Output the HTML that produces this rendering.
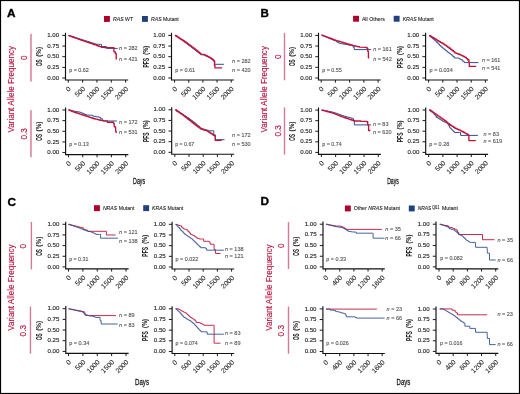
<!DOCTYPE html><html><head><meta charset="utf-8"><style>html,body{margin:0;padding:0;background:#fff;}svg{display:block;will-change:transform;}text{font-family:"Liberation Sans", sans-serif;}</style></head><body>
<svg width="520" height="394" viewBox="0 0 520 394">
<rect x="0" y="0" width="520" height="394" fill="#fff"/>
<text x="7" y="17" font-size="11.8" fill="#000" stroke="#000" stroke-width="0.35" font-weight="bold">A</text>
<text x="260.5" y="16.8" font-size="11.6" fill="#000" stroke="#000" stroke-width="0.35" font-weight="bold">B</text>
<text x="7.4" y="206" font-size="11.8" fill="#000" stroke="#000" stroke-width="0.35" font-weight="bold">C</text>
<text x="260.6" y="205.4" font-size="11.8" fill="#000" stroke="#000" stroke-width="0.35" font-weight="bold">D</text>
<rect x="104" y="16" width="5.9" height="5.9" fill="#b0002a"/>
<text x="113.1" y="20.9" font-size="5.6" fill="#222" stroke="#222" stroke-width="0.1" textLength="20" lengthAdjust="spacingAndGlyphs"><tspan font-style="italic">RAS</tspan> WT</text>
<rect x="142" y="16" width="5.9" height="5.9" fill="#21407f"/>
<text x="151" y="20.9" font-size="5.6" fill="#222" stroke="#222" stroke-width="0.1" textLength="27.8" lengthAdjust="spacingAndGlyphs"><tspan font-style="italic">RAS</tspan> Mutant</text>
<rect x="353.1" y="15.8" width="5.9" height="5.9" fill="#b0002a"/>
<text x="361.9" y="20.8" font-size="5.6" fill="#222" stroke="#222" stroke-width="0.1" textLength="22.9" lengthAdjust="spacingAndGlyphs">All Others</text>
<rect x="393.7" y="15.8" width="5.9" height="5.9" fill="#21407f"/>
<text x="402.7" y="20.8" font-size="5.6" fill="#222" stroke="#222" stroke-width="0.1" textLength="31.1" lengthAdjust="spacingAndGlyphs"><tspan font-style="italic">KRAS</tspan> Mutant</text>
<rect x="94" y="205.2" width="5.9" height="5.9" fill="#b0002a"/>
<text x="102.9" y="210.2" font-size="5.6" fill="#222" stroke="#222" stroke-width="0.1" textLength="31.5" lengthAdjust="spacingAndGlyphs"><tspan font-style="italic">NRAS</tspan> Mutant</text>
<rect x="143.2" y="205.2" width="5.9" height="5.9" fill="#21407f"/>
<text x="152.1" y="210.2" font-size="5.6" fill="#222" stroke="#222" stroke-width="0.1" textLength="31.2" lengthAdjust="spacingAndGlyphs"><tspan font-style="italic">KRAS</tspan> Mutant</text>
<rect x="344.9" y="205.5" width="5.9" height="5.9" fill="#b0002a"/>
<text x="353.7" y="210.4" font-size="5.6" fill="#222" stroke="#222" stroke-width="0.1" textLength="46.3" lengthAdjust="spacingAndGlyphs">Other <tspan font-style="italic">NRAS</tspan> Mutant</text>
<rect x="408.8" y="205.5" width="5.9" height="5.9" fill="#21407f"/>
<text x="417.7" y="210.4" font-size="5.6" fill="#222" stroke="#222" stroke-width="0.1" textLength="13.6" lengthAdjust="spacingAndGlyphs"><tspan font-style="italic">NRAS</tspan></text>
<text x="432" y="208.5" font-size="4.5" fill="#222" stroke="#222" stroke-width="0.08" textLength="7.6" lengthAdjust="spacingAndGlyphs">Q61</text>
<text x="442" y="210.4" font-size="5.6" fill="#222" stroke="#222" stroke-width="0.1" textLength="15.9" lengthAdjust="spacingAndGlyphs">Mutant</text>
<text x="14.2" y="89.3" font-size="8.2" fill="#b8153f" stroke="#b8153f" stroke-width="0.15" text-anchor="middle" textLength="86.4" lengthAdjust="spacingAndGlyphs" transform="rotate(-90 14.2 89.3)">Variant Allele Frequency</text>
<text x="27" y="57.7" font-size="8.2" fill="#b8153f" stroke="#b8153f" stroke-width="0.15" text-anchor="middle" transform="rotate(-90 27 57.7)">0</text>
<text x="27" y="133.8" font-size="8.2" fill="#b8153f" stroke="#b8153f" stroke-width="0.15" text-anchor="middle" transform="rotate(-90 27 133.8)">0.3</text>
<path d="M30.95 33.8V81.5" stroke="#de9db2" stroke-width="2"/>
<path d="M30.95 110.2V157.2" stroke="#de9db2" stroke-width="2"/>
<text x="267.2" y="89.3" font-size="8.2" fill="#b8153f" stroke="#b8153f" stroke-width="0.15" text-anchor="middle" textLength="86.4" lengthAdjust="spacingAndGlyphs" transform="rotate(-90 267.2 89.3)">Variant Allele Frequency</text>
<text x="280.7" y="56.6" font-size="8.2" fill="#b8153f" stroke="#b8153f" stroke-width="0.15" text-anchor="middle" transform="rotate(-90 280.7 56.6)">0</text>
<text x="280.7" y="130.8" font-size="8.2" fill="#b8153f" stroke="#b8153f" stroke-width="0.15" text-anchor="middle" transform="rotate(-90 280.7 130.8)">0.3</text>
<path d="M284.5 32.9V80.3" stroke="#d47a98" stroke-width="1.4"/>
<path d="M284.5 107.4V154.5" stroke="#d47a98" stroke-width="1.4"/>
<text x="13.8" y="287.6" font-size="8.2" fill="#b8153f" stroke="#b8153f" stroke-width="0.15" text-anchor="middle" textLength="86.4" lengthAdjust="spacingAndGlyphs" transform="rotate(-90 13.8 287.6)">Variant Allele Frequency</text>
<text x="26.3" y="246.3" font-size="8.2" fill="#b8153f" stroke="#b8153f" stroke-width="0.15" text-anchor="middle" transform="rotate(-90 26.3 246.3)">0</text>
<text x="26.3" y="330.7" font-size="8.2" fill="#b8153f" stroke="#b8153f" stroke-width="0.15" text-anchor="middle" transform="rotate(-90 26.3 330.7)">0.3</text>
<path d="M31.4 221.9V269.4" stroke="#d47a98" stroke-width="1.4"/>
<path d="M30.45 306.6V353.7" stroke="#d47a98" stroke-width="1.4"/>
<text x="271.8" y="287.6" font-size="8.2" fill="#b8153f" stroke="#b8153f" stroke-width="0.15" text-anchor="middle" textLength="86.4" lengthAdjust="spacingAndGlyphs" transform="rotate(-90 271.8 287.6)">Variant Allele Frequency</text>
<text x="284" y="245.6" font-size="8.2" fill="#b8153f" stroke="#b8153f" stroke-width="0.15" text-anchor="middle" transform="rotate(-90 284 245.6)">0</text>
<text x="284" y="330.7" font-size="8.2" fill="#b8153f" stroke="#b8153f" stroke-width="0.15" text-anchor="middle" transform="rotate(-90 284 330.7)">0.3</text>
<path d="M288.5 222.1V268.9" stroke="#d47a98" stroke-width="1.4"/>
<path d="M288.5 306.6V353.7" stroke="#d47a98" stroke-width="1.4"/>
<text x="139.1" y="184.3" font-size="9.4" fill="#1a1a1a" stroke="#1a1a1a" stroke-width="0.3" text-anchor="middle" textLength="12" lengthAdjust="spacingAndGlyphs">Days</text>
<text x="393" y="184.2" font-size="9.4" fill="#1a1a1a" stroke="#1a1a1a" stroke-width="0.3" text-anchor="middle" textLength="11.7" lengthAdjust="spacingAndGlyphs">Days</text>
<text x="142" y="384.6" font-size="9.4" fill="#1a1a1a" stroke="#1a1a1a" stroke-width="0.3" text-anchor="middle" textLength="13.9" lengthAdjust="spacingAndGlyphs">Days</text>
<text x="403.4" y="384.5" font-size="9.4" fill="#1a1a1a" stroke="#1a1a1a" stroke-width="0.3" text-anchor="middle" textLength="13.6" lengthAdjust="spacingAndGlyphs">Days</text>
<path d="M65.5 32.8V79.95H128.22" fill="none" stroke="#111" stroke-width="1.15"/>
<path d="M62.3 78H65.5M62.3 67.35H65.5M62.3 56.7H65.5M62.3 46.05H65.5M62.3 35.4H65.5M68.3 79.95V82.65M82.63 79.95V82.65M96.96 79.95V82.65M111.29 79.95V82.65M125.62 79.95V82.65" stroke="#1a1a1a" stroke-width="1.0"/>
<text x="59.1" y="79.6" font-size="6.1" fill="#262626" stroke="#262626" stroke-width="0.14" text-anchor="end">0.00</text>
<text x="59.1" y="68.95" font-size="6.1" fill="#262626" stroke="#262626" stroke-width="0.14" text-anchor="end">0.25</text>
<text x="59.1" y="58.3" font-size="6.1" fill="#262626" stroke="#262626" stroke-width="0.14" text-anchor="end">0.50</text>
<text x="59.1" y="47.65" font-size="6.1" fill="#262626" stroke="#262626" stroke-width="0.14" text-anchor="end">0.75</text>
<text x="59.1" y="37" font-size="6.1" fill="#262626" stroke="#262626" stroke-width="0.14" text-anchor="end">1.00</text>
<text x="71.3" y="89.25" font-size="6.85" fill="#262626" stroke="#262626" stroke-width="0.08" text-anchor="end" transform="rotate(-45 71.3 89.25)">0</text>
<text x="85.63" y="89.25" font-size="6.85" fill="#262626" stroke="#262626" stroke-width="0.08" text-anchor="end" transform="rotate(-45 85.63 89.25)">500</text>
<text x="99.96" y="89.25" font-size="6.85" fill="#262626" stroke="#262626" stroke-width="0.08" text-anchor="end" transform="rotate(-45 99.96 89.25)">1000</text>
<text x="114.29" y="89.25" font-size="6.85" fill="#262626" stroke="#262626" stroke-width="0.08" text-anchor="end" transform="rotate(-45 114.29 89.25)">1500</text>
<text x="128.62" y="89.25" font-size="6.85" fill="#262626" stroke="#262626" stroke-width="0.08" text-anchor="end" transform="rotate(-45 128.62 89.25)">2000</text>
<g transform="translate(41.9 56.5) rotate(-90)">
<text x="-9.55" y="0" font-size="8.6" fill="#1a1a1a" stroke="#1a1a1a" stroke-width="0.05" font-weight="bold" textLength="6.6" lengthAdjust="spacingAndGlyphs">OS</text>
<text x="-0.35" y="-1.1" font-size="7.1" fill="#1a1a1a" stroke="#1a1a1a" stroke-width="0.05" font-weight="bold" textLength="9.9" lengthAdjust="spacingAndGlyphs">(%)</text>
</g>
<path d="M68.3 35.5 L69.6 35.5 L69.6 35.91 L70.9 35.91 L70.9 36.32 L72.2 36.32 L72.2 36.73 L73.5 36.73 L73.5 37.14 L74.8 37.14 L74.8 37.56 L76.1 37.56 L76.1 37.97 L77.4 37.97 L77.4 38.38 L78.7 38.38 L78.7 38.79 L80 38.79 L80 39.2 L81.25 39.2 L81.25 39.59 L82.5 39.59 L82.5 39.98 L83.75 39.98 L83.75 40.36 L85 40.36 L85 40.75 L86.25 40.75 L86.25 41.14 L87.5 41.14 L87.5 41.52 L88.75 41.52 L88.75 41.91 L90 41.91 L90 42.3 L91.28 42.3 L91.28 42.75 L92.55 42.75 L92.55 43.2 L93.82 43.2 L93.82 43.65 L95.1 43.65 L95.1 44.1 L98.3 44.3 L100.5 44.4 L101.5 44.4 L101.5 46.5 L106.4 46.5 L106.4 48.4 L117.7 48.4" fill="none" stroke="#2f4f8f" stroke-width="1.0" stroke-linejoin="round"/>
<path d="M68.3 35.6 L69.6 35.6 L69.6 36.07 L70.9 36.07 L70.9 36.53 L72.2 36.53 L72.2 37 L73.5 37 L73.5 37.47 L74.8 37.47 L74.8 37.93 L76.1 37.93 L76.1 38.4 L77.4 38.4 L77.4 38.87 L78.7 38.87 L78.7 39.33 L80 39.33 L80 39.8 L81.25 39.8 L81.25 40.22 L82.5 40.22 L82.5 40.65 L83.75 40.65 L83.75 41.08 L85 41.08 L85 41.5 L86.25 41.5 L86.25 41.92 L87.5 41.92 L87.5 42.35 L88.75 42.35 L88.75 42.78 L90 42.78 L90 43.2 L91.28 43.2 L91.28 43.62 L92.55 43.62 L92.55 44.05 L93.82 44.05 L93.82 44.48 L95.1 44.48 L95.1 44.9 L96.55 44.9 L96.55 45.45 L98 45.45 L98 46 L99.17 46 L99.17 46.43 L100.33 46.43 L100.33 46.87 L101.5 46.87 L101.5 47.3 L104 47.3 L104 47.6 L113.9 47.6 L113.9 51.9 L115.3 51.9 L115.3 53.5 L116.2 53.5 L116.2 58.9 L117 58.9" fill="none" stroke="#c0143c" stroke-width="1.35" stroke-linejoin="round"/>
<text x="69.2" y="71.8" font-size="5.4" fill="#555" stroke="#555" stroke-width="0.12" textLength="19.7" lengthAdjust="spacingAndGlyphs">p = 0.62</text>
<text x="119.1" y="50.1" font-size="5.5" fill="#555" stroke="#555" stroke-width="0.12"><tspan font-style="italic">n</tspan> = 282</text>
<text x="119.1" y="61.2" font-size="5.5" fill="#555" stroke="#555" stroke-width="0.12"><tspan font-style="italic">n</tspan> = 421</text>
<path d="M171.5 32.8V79.95H233.8" fill="none" stroke="#111" stroke-width="1.15"/>
<path d="M168.3 78H171.5M168.3 67.35H171.5M168.3 56.7H171.5M168.3 46.05H171.5M168.3 35.4H171.5M174.6 79.95V82.65M188.75 79.95V82.65M202.9 79.95V82.65M217.05 79.95V82.65M231.2 79.95V82.65" stroke="#1a1a1a" stroke-width="1.0"/>
<text x="165.1" y="79.6" font-size="6.1" fill="#262626" stroke="#262626" stroke-width="0.14" text-anchor="end">0.00</text>
<text x="165.1" y="68.95" font-size="6.1" fill="#262626" stroke="#262626" stroke-width="0.14" text-anchor="end">0.25</text>
<text x="165.1" y="58.3" font-size="6.1" fill="#262626" stroke="#262626" stroke-width="0.14" text-anchor="end">0.50</text>
<text x="165.1" y="47.65" font-size="6.1" fill="#262626" stroke="#262626" stroke-width="0.14" text-anchor="end">0.75</text>
<text x="165.1" y="37" font-size="6.1" fill="#262626" stroke="#262626" stroke-width="0.14" text-anchor="end">1.00</text>
<text x="177.6" y="89.25" font-size="6.85" fill="#262626" stroke="#262626" stroke-width="0.08" text-anchor="end" transform="rotate(-45 177.6 89.25)">0</text>
<text x="191.75" y="89.25" font-size="6.85" fill="#262626" stroke="#262626" stroke-width="0.08" text-anchor="end" transform="rotate(-45 191.75 89.25)">500</text>
<text x="205.9" y="89.25" font-size="6.85" fill="#262626" stroke="#262626" stroke-width="0.08" text-anchor="end" transform="rotate(-45 205.9 89.25)">1000</text>
<text x="220.05" y="89.25" font-size="6.85" fill="#262626" stroke="#262626" stroke-width="0.08" text-anchor="end" transform="rotate(-45 220.05 89.25)">1500</text>
<text x="234.2" y="89.25" font-size="6.85" fill="#262626" stroke="#262626" stroke-width="0.08" text-anchor="end" transform="rotate(-45 234.2 89.25)">2000</text>
<g transform="translate(149.4 56.7) rotate(-90)">
<text x="-10.9" y="0" font-size="8.6" fill="#1a1a1a" stroke="#1a1a1a" stroke-width="0.05" font-weight="bold" textLength="9.8" lengthAdjust="spacingAndGlyphs">PFS</text>
<text x="2" y="-1.1" font-size="7.1" fill="#1a1a1a" stroke="#1a1a1a" stroke-width="0.05" font-weight="bold" textLength="8.9" lengthAdjust="spacingAndGlyphs">(%)</text>
</g>
<path d="M174.9 35.5 L176.13 35.5 L176.13 36.34 L177.36 36.34 L177.36 37.19 L178.59 37.19 L178.59 38.03 L179.81 38.03 L179.81 38.87 L181.04 38.87 L181.04 39.71 L182.27 39.71 L182.27 40.56 L183.5 40.56 L183.5 41.4 L184.83 41.4 L184.83 42.43 L186.16 42.43 L186.16 43.46 L187.49 43.46 L187.49 44.49 L188.81 44.49 L188.81 45.51 L190.14 45.51 L190.14 46.54 L191.47 46.54 L191.47 47.57 L192.8 47.57 L192.8 48.6 L194.13 48.6 L194.13 49.63 L195.47 49.63 L195.47 50.67 L196.8 50.67 L196.8 51.7 L198.13 51.7 L198.13 52.73 L199.47 52.73 L199.47 53.77 L200.8 53.77 L200.8 54.8 L203.2 54.8 L204.33 54.8 L204.33 55.33 L205.47 55.33 L205.47 55.87 L206.6 55.87 L206.6 56.4 L207.77 56.4 L207.77 57 L208.93 57 L208.93 57.6 L210.1 57.6 L210.1 58.2 L211.25 58.2 L211.25 59.05 L212.4 59.05 L212.4 59.9 L213.5 59.9 L213.5 60.8 L214.7 60.8 L214.7 64.3 L223.9 64.3" fill="none" stroke="#2f4f8f" stroke-width="1.0" stroke-linejoin="round"/>
<path d="M174.9 35.5 L176.13 35.5 L176.13 36.29 L177.36 36.29 L177.36 37.07 L178.59 37.07 L178.59 37.86 L179.81 37.86 L179.81 38.64 L181.04 38.64 L181.04 39.43 L182.27 39.43 L182.27 40.21 L183.5 40.21 L183.5 41 L184.83 41 L184.83 41.97 L186.16 41.97 L186.16 42.94 L187.49 42.94 L187.49 43.91 L188.81 43.91 L188.81 44.89 L190.14 44.89 L190.14 45.86 L191.47 45.86 L191.47 46.83 L192.8 46.83 L192.8 47.8 L194.13 47.8 L194.13 48.87 L195.47 48.87 L195.47 49.93 L196.8 49.93 L196.8 51 L198.13 51 L198.13 52.07 L199.47 52.07 L199.47 53.13 L200.8 53.13 L200.8 54.2 L203.2 54.4 L204.33 54.4 L204.33 54.93 L205.47 54.93 L205.47 55.47 L206.6 55.47 L206.6 56 L207.77 56 L207.77 56.6 L208.93 56.6 L208.93 57.2 L210.1 57.2 L210.1 57.8 L211.25 57.8 L211.25 58.65 L212.4 58.65 L212.4 59.5 L213.5 59.5 L213.5 60.8 L214.5 60.8 L214.5 65.5 L214.9 65.5 L214.9 67.8 L222.2 67.8" fill="none" stroke="#c0143c" stroke-width="1.35" stroke-linejoin="round"/>
<text x="175.2" y="71.8" font-size="5.4" fill="#555" stroke="#555" stroke-width="0.12" textLength="19.9" lengthAdjust="spacingAndGlyphs">p = 0.61</text>
<text x="232.1" y="63.3" font-size="5.5" fill="#555" stroke="#555" stroke-width="0.12"><tspan font-style="italic">n</tspan> = 282</text>
<text x="232.1" y="71.9" font-size="5.5" fill="#555" stroke="#555" stroke-width="0.12"><tspan font-style="italic">n</tspan> = 420</text>
<path d="M65.6 107.4V154.55H128.32" fill="none" stroke="#111" stroke-width="1.15"/>
<path d="M62.4 152.6H65.6M62.4 141.95H65.6M62.4 131.3H65.6M62.4 120.65H65.6M62.4 110H65.6M68.4 154.55V157.25M82.73 154.55V157.25M97.06 154.55V157.25M111.39 154.55V157.25M125.72 154.55V157.25" stroke="#1a1a1a" stroke-width="1.0"/>
<text x="59.2" y="154.2" font-size="6.1" fill="#262626" stroke="#262626" stroke-width="0.14" text-anchor="end">0.00</text>
<text x="59.2" y="143.55" font-size="6.1" fill="#262626" stroke="#262626" stroke-width="0.14" text-anchor="end">0.25</text>
<text x="59.2" y="132.9" font-size="6.1" fill="#262626" stroke="#262626" stroke-width="0.14" text-anchor="end">0.50</text>
<text x="59.2" y="122.25" font-size="6.1" fill="#262626" stroke="#262626" stroke-width="0.14" text-anchor="end">0.75</text>
<text x="59.2" y="111.6" font-size="6.1" fill="#262626" stroke="#262626" stroke-width="0.14" text-anchor="end">1.00</text>
<text x="71.4" y="163.85" font-size="6.85" fill="#262626" stroke="#262626" stroke-width="0.08" text-anchor="end" transform="rotate(-45 71.4 163.85)">0</text>
<text x="85.73" y="163.85" font-size="6.85" fill="#262626" stroke="#262626" stroke-width="0.08" text-anchor="end" transform="rotate(-45 85.73 163.85)">500</text>
<text x="100.06" y="163.85" font-size="6.85" fill="#262626" stroke="#262626" stroke-width="0.08" text-anchor="end" transform="rotate(-45 100.06 163.85)">1000</text>
<text x="114.39" y="163.85" font-size="6.85" fill="#262626" stroke="#262626" stroke-width="0.08" text-anchor="end" transform="rotate(-45 114.39 163.85)">1500</text>
<text x="128.72" y="163.85" font-size="6.85" fill="#262626" stroke="#262626" stroke-width="0.08" text-anchor="end" transform="rotate(-45 128.72 163.85)">2000</text>
<g transform="translate(41.9 131.1) rotate(-90)">
<text x="-9.55" y="0" font-size="8.6" fill="#1a1a1a" stroke="#1a1a1a" stroke-width="0.05" font-weight="bold" textLength="6.6" lengthAdjust="spacingAndGlyphs">OS</text>
<text x="-0.35" y="-1.1" font-size="7.1" fill="#1a1a1a" stroke="#1a1a1a" stroke-width="0.05" font-weight="bold" textLength="9.9" lengthAdjust="spacingAndGlyphs">(%)</text>
</g>
<path d="M68.5 110 L69.97 110 L69.97 110.4 L71.43 110.4 L71.43 110.8 L72.9 110.8 L72.9 111.2 L75.2 111.2 L75.2 111.57 L77.5 111.57 L77.5 111.93 L79.8 111.93 L79.8 112.3 L81.25 112.3 L81.25 112.9 L82.7 112.9 L82.7 113.5 L83.87 113.5 L83.87 114 L85.03 114 L85.03 114.5 L86.2 114.5 L86.2 115 L90.8 115.2 L92.25 115.2 L92.25 115.8 L93.7 115.8 L93.7 116.4 L96.3 116.4 L96.3 116.85 L98.9 116.85 L98.9 117.3 L100.6 117.3 L100.6 118.7 L102.3 118.7 L102.3 121 L116.8 121" fill="none" stroke="#2f4f8f" stroke-width="1.0" stroke-linejoin="round"/>
<path d="M68.5 110 L69.97 110 L69.97 110.6 L71.43 110.6 L71.43 111.2 L72.9 111.2 L72.9 111.8 L74.28 111.8 L74.28 112.26 L75.66 112.26 L75.66 112.72 L77.04 112.72 L77.04 113.18 L78.42 113.18 L78.42 113.64 L79.8 113.64 L79.8 114.1 L81.2 114.1 L81.2 114.56 L82.6 114.56 L82.6 115.02 L84 115.02 L84 115.48 L85.4 115.48 L85.4 115.94 L86.8 115.94 L86.8 116.4 L88.18 116.4 L88.18 116.86 L89.56 116.86 L89.56 117.32 L90.94 117.32 L90.94 117.78 L92.32 117.78 L92.32 118.24 L93.7 118.24 L93.7 118.7 L95.42 118.7 L95.42 119.12 L97.15 119.12 L97.15 119.55 L98.88 119.55 L98.88 119.98 L100.6 119.98 L100.6 120.4 L103.5 120.4 L103.5 120.8 L106.4 120.8 L106.4 121.2 L107.5 121.2 L107.5 122.2 L112.7 122.2 L113.5 122.2 L113.5 123.3 L114.2 123.3 L114.2 126.8 L115.6 126.8 L115.6 128.5 L115.8 132 L117 132" fill="none" stroke="#c0143c" stroke-width="1.35" stroke-linejoin="round"/>
<text x="69.2" y="146.1" font-size="5.4" fill="#555" stroke="#555" stroke-width="0.12" textLength="19.7" lengthAdjust="spacingAndGlyphs">p = 0.13</text>
<text x="119.1" y="123.8" font-size="5.5" fill="#555" stroke="#555" stroke-width="0.12"><tspan font-style="italic">n</tspan> = 172</text>
<text x="119.1" y="134.4" font-size="5.5" fill="#555" stroke="#555" stroke-width="0.12"><tspan font-style="italic">n</tspan> = 531</text>
<path d="M171.7 107.2V154.25H234.2" fill="none" stroke="#111" stroke-width="1.15"/>
<path d="M168.5 152.3H171.7M168.5 141.68H171.7M168.5 131.05H171.7M168.5 120.42H171.7M168.5 109.8H171.7M174.8 154.25V156.95M189 154.25V156.95M203.2 154.25V156.95M217.4 154.25V156.95M231.6 154.25V156.95" stroke="#1a1a1a" stroke-width="1.0"/>
<text x="165.3" y="153.9" font-size="6.1" fill="#262626" stroke="#262626" stroke-width="0.14" text-anchor="end">0.00</text>
<text x="165.3" y="143.28" font-size="6.1" fill="#262626" stroke="#262626" stroke-width="0.14" text-anchor="end">0.25</text>
<text x="165.3" y="132.65" font-size="6.1" fill="#262626" stroke="#262626" stroke-width="0.14" text-anchor="end">0.50</text>
<text x="165.3" y="122.02" font-size="6.1" fill="#262626" stroke="#262626" stroke-width="0.14" text-anchor="end">0.75</text>
<text x="165.3" y="111.4" font-size="6.1" fill="#262626" stroke="#262626" stroke-width="0.14" text-anchor="end">1.00</text>
<text x="177.8" y="163.55" font-size="6.85" fill="#262626" stroke="#262626" stroke-width="0.08" text-anchor="end" transform="rotate(-45 177.8 163.55)">0</text>
<text x="192" y="163.55" font-size="6.85" fill="#262626" stroke="#262626" stroke-width="0.08" text-anchor="end" transform="rotate(-45 192 163.55)">500</text>
<text x="206.2" y="163.55" font-size="6.85" fill="#262626" stroke="#262626" stroke-width="0.08" text-anchor="end" transform="rotate(-45 206.2 163.55)">1000</text>
<text x="220.4" y="163.55" font-size="6.85" fill="#262626" stroke="#262626" stroke-width="0.08" text-anchor="end" transform="rotate(-45 220.4 163.55)">1500</text>
<text x="234.6" y="163.55" font-size="6.85" fill="#262626" stroke="#262626" stroke-width="0.08" text-anchor="end" transform="rotate(-45 234.6 163.55)">2000</text>
<g transform="translate(149.4 131.2) rotate(-90)">
<text x="-10.9" y="0" font-size="8.6" fill="#1a1a1a" stroke="#1a1a1a" stroke-width="0.05" font-weight="bold" textLength="9.8" lengthAdjust="spacingAndGlyphs">PFS</text>
<text x="2" y="-1.1" font-size="7.1" fill="#1a1a1a" stroke="#1a1a1a" stroke-width="0.05" font-weight="bold" textLength="8.9" lengthAdjust="spacingAndGlyphs">(%)</text>
</g>
<path d="M175.2 110 L176.58 110 L176.58 110.87 L177.97 110.87 L177.97 111.73 L179.35 111.73 L179.35 112.6 L180.73 112.6 L180.73 113.47 L182.12 113.47 L182.12 114.33 L183.5 114.33 L183.5 115.2 L184.67 115.2 L184.67 115.97 L185.83 115.97 L185.83 116.73 L187 116.73 L187 117.5 L188.38 117.5 L188.38 118.54 L189.76 118.54 L189.76 119.58 L191.14 119.58 L191.14 120.62 L192.52 120.62 L192.52 121.66 L193.9 121.66 L193.9 122.7 L195.28 122.7 L195.28 123.86 L196.66 123.86 L196.66 125.02 L198.04 125.02 L198.04 126.18 L199.42 126.18 L199.42 127.34 L200.8 127.34 L200.8 128.5 L202.25 128.5 L202.25 128.93 L203.7 128.93 L203.7 129.35 L205.15 129.35 L205.15 129.77 L206.6 129.77 L206.6 130.2 L208.3 130.2 L208.3 130.8 L213 130.8 L213.8 130.8 L213.8 134.8 L214.5 134.8 L215.3 134.8 L215.3 139.7 L224.5 139.7" fill="none" stroke="#2f4f8f" stroke-width="1.0" stroke-linejoin="round"/>
<path d="M175.2 110 L176.58 110 L176.58 110.97 L177.97 110.97 L177.97 111.93 L179.35 111.93 L179.35 112.9 L180.73 112.9 L180.73 113.87 L182.12 113.87 L182.12 114.83 L183.5 114.83 L183.5 115.8 L184.95 115.8 L184.95 116.95 L186.4 116.95 L186.4 118.1 L187.85 118.1 L187.85 119.25 L189.3 119.25 L189.3 120.4 L190.75 120.4 L190.75 121.55 L192.2 121.55 L192.2 122.7 L193.65 122.7 L193.65 123.85 L195.1 123.85 L195.1 125 L196.53 125 L196.53 126.03 L197.95 126.03 L197.95 127.05 L199.38 127.05 L199.38 128.07 L200.8 128.07 L200.8 129.1 L202.25 129.1 L202.25 129.53 L203.7 129.53 L203.7 129.95 L205.15 129.95 L205.15 130.38 L206.6 130.38 L206.6 130.8 L207.75 130.8 L207.75 131.53 L208.9 131.53 L208.9 132.25 L210.05 132.25 L210.05 132.97 L211.2 132.97 L211.2 133.7 L212.35 133.7 L212.35 134.55 L213.5 134.55 L213.5 135.4 L214.9 135.4 L214.9 136.6 L215.3 136.6 L215.3 140.4 L221.8 140.4" fill="none" stroke="#c0143c" stroke-width="1.35" stroke-linejoin="round"/>
<text x="175.2" y="145.8" font-size="5.4" fill="#555" stroke="#555" stroke-width="0.12" textLength="19" lengthAdjust="spacingAndGlyphs">p = 0.67</text>
<text x="232.1" y="136.8" font-size="5.5" fill="#555" stroke="#555" stroke-width="0.12"><tspan font-style="italic">n</tspan> = 172</text>
<text x="232.1" y="145.7" font-size="5.5" fill="#555" stroke="#555" stroke-width="0.12"><tspan font-style="italic">n</tspan> = 530</text>
<path d="M318.5 32.8V79.95H380.68" fill="none" stroke="#111" stroke-width="1.15"/>
<path d="M315.3 78H318.5M315.3 67.35H318.5M315.3 56.7H318.5M315.3 46.05H318.5M315.3 35.4H318.5M321.2 79.95V82.65M335.42 79.95V82.65M349.64 79.95V82.65M363.86 79.95V82.65M378.08 79.95V82.65" stroke="#1a1a1a" stroke-width="1.0"/>
<text x="312.1" y="79.6" font-size="6.1" fill="#262626" stroke="#262626" stroke-width="0.14" text-anchor="end">0.00</text>
<text x="312.1" y="68.95" font-size="6.1" fill="#262626" stroke="#262626" stroke-width="0.14" text-anchor="end">0.25</text>
<text x="312.1" y="58.3" font-size="6.1" fill="#262626" stroke="#262626" stroke-width="0.14" text-anchor="end">0.50</text>
<text x="312.1" y="47.65" font-size="6.1" fill="#262626" stroke="#262626" stroke-width="0.14" text-anchor="end">0.75</text>
<text x="312.1" y="37" font-size="6.1" fill="#262626" stroke="#262626" stroke-width="0.14" text-anchor="end">1.00</text>
<text x="324.2" y="89.25" font-size="6.85" fill="#262626" stroke="#262626" stroke-width="0.08" text-anchor="end" transform="rotate(-45 324.2 89.25)">0</text>
<text x="338.42" y="89.25" font-size="6.85" fill="#262626" stroke="#262626" stroke-width="0.08" text-anchor="end" transform="rotate(-45 338.42 89.25)">500</text>
<text x="352.64" y="89.25" font-size="6.85" fill="#262626" stroke="#262626" stroke-width="0.08" text-anchor="end" transform="rotate(-45 352.64 89.25)">1000</text>
<text x="366.86" y="89.25" font-size="6.85" fill="#262626" stroke="#262626" stroke-width="0.08" text-anchor="end" transform="rotate(-45 366.86 89.25)">1500</text>
<text x="381.08" y="89.25" font-size="6.85" fill="#262626" stroke="#262626" stroke-width="0.08" text-anchor="end" transform="rotate(-45 381.08 89.25)">2000</text>
<g transform="translate(295.2 56.5) rotate(-90)">
<text x="-9.55" y="0" font-size="8.6" fill="#1a1a1a" stroke="#1a1a1a" stroke-width="0.05" font-weight="bold" textLength="6.6" lengthAdjust="spacingAndGlyphs">OS</text>
<text x="-0.35" y="-1.1" font-size="7.1" fill="#1a1a1a" stroke="#1a1a1a" stroke-width="0.05" font-weight="bold" textLength="9.9" lengthAdjust="spacingAndGlyphs">(%)</text>
</g>
<path d="M321.5 35.2 L322.75 35.2 L322.75 35.73 L324.01 35.73 L324.01 36.25 L325.26 36.25 L325.26 36.78 L326.52 36.78 L326.52 37.31 L327.77 37.31 L327.77 37.84 L329.03 37.84 L329.03 38.36 L330.28 38.36 L330.28 38.89 L331.54 38.89 L331.54 39.42 L332.79 39.42 L332.79 39.95 L334.05 39.95 L334.05 40.47 L335.3 40.47 L335.3 41 L336.45 41 L336.45 41.85 L337.6 41.85 L337.6 42.7 L338.77 42.7 L338.77 43.07 L339.93 43.07 L339.93 43.43 L341.1 43.43 L341.1 43.8 L343.4 43.8 L343.4 44.2 L345.7 44.2 L345.7 44.6 L348 44.6 L348 45 L352.6 45 L352.6 45.6 L353.2 45.6 L353.2 47.3 L354.3 47.3 L354.3 49.6 L371.1 49.6" fill="none" stroke="#2f4f8f" stroke-width="1.0" stroke-linejoin="round"/>
<path d="M321.5 35.2 L322.75 35.2 L322.75 35.67 L324.01 35.67 L324.01 36.15 L325.26 36.15 L325.26 36.62 L326.52 36.62 L326.52 37.09 L327.77 37.09 L327.77 37.56 L329.03 37.56 L329.03 38.04 L330.28 38.04 L330.28 38.51 L331.54 38.51 L331.54 38.98 L332.79 38.98 L332.79 39.45 L334.05 39.45 L334.05 39.93 L335.3 39.93 L335.3 40.4 L336.75 40.4 L336.75 40.83 L338.2 40.83 L338.2 41.25 L339.65 41.25 L339.65 41.67 L341.1 41.67 L341.1 42.1 L342.53 42.1 L342.53 42.52 L343.95 42.52 L343.95 42.95 L345.38 42.95 L345.38 43.38 L346.8 43.38 L346.8 43.8 L348.25 43.8 L348.25 44.25 L349.7 44.25 L349.7 44.7 L351.15 44.7 L351.15 45.15 L352.6 45.15 L352.6 45.6 L354.35 45.6 L354.35 46 L356.1 46 L356.1 46.4 L357.8 46.4 L357.8 46.75 L359.5 46.75 L359.5 47.1 L366.5 47.3 L367 47.3 L367 48.5 L367.8 48.5 L367.8 51.3 L368.4 51.3 L368.4 57.7 L369.3 57.7" fill="none" stroke="#c0143c" stroke-width="1.35" stroke-linejoin="round"/>
<text x="322.2" y="71.8" font-size="5.4" fill="#555" stroke="#555" stroke-width="0.12" textLength="19.7" lengthAdjust="spacingAndGlyphs">p = 0.55</text>
<text x="373.2" y="51.2" font-size="5.5" fill="#555" stroke="#555" stroke-width="0.12"><tspan font-style="italic">n</tspan> = 161</text>
<text x="373.2" y="61.4" font-size="5.5" fill="#555" stroke="#555" stroke-width="0.12"><tspan font-style="italic">n</tspan> = 542</text>
<path d="M425.6 32.8V79.95H488" fill="none" stroke="#111" stroke-width="1.15"/>
<path d="M422.4 78H425.6M422.4 67.35H425.6M422.4 56.7H425.6M422.4 46.05H425.6M422.4 35.4H425.6M428.6 79.95V82.65M442.8 79.95V82.65M457 79.95V82.65M471.2 79.95V82.65M485.4 79.95V82.65" stroke="#1a1a1a" stroke-width="1.0"/>
<text x="419.2" y="79.6" font-size="6.1" fill="#262626" stroke="#262626" stroke-width="0.14" text-anchor="end">0.00</text>
<text x="419.2" y="68.95" font-size="6.1" fill="#262626" stroke="#262626" stroke-width="0.14" text-anchor="end">0.25</text>
<text x="419.2" y="58.3" font-size="6.1" fill="#262626" stroke="#262626" stroke-width="0.14" text-anchor="end">0.50</text>
<text x="419.2" y="47.65" font-size="6.1" fill="#262626" stroke="#262626" stroke-width="0.14" text-anchor="end">0.75</text>
<text x="419.2" y="37" font-size="6.1" fill="#262626" stroke="#262626" stroke-width="0.14" text-anchor="end">1.00</text>
<text x="431.6" y="89.25" font-size="6.85" fill="#262626" stroke="#262626" stroke-width="0.08" text-anchor="end" transform="rotate(-45 431.6 89.25)">0</text>
<text x="445.8" y="89.25" font-size="6.85" fill="#262626" stroke="#262626" stroke-width="0.08" text-anchor="end" transform="rotate(-45 445.8 89.25)">500</text>
<text x="460" y="89.25" font-size="6.85" fill="#262626" stroke="#262626" stroke-width="0.08" text-anchor="end" transform="rotate(-45 460 89.25)">1000</text>
<text x="474.2" y="89.25" font-size="6.85" fill="#262626" stroke="#262626" stroke-width="0.08" text-anchor="end" transform="rotate(-45 474.2 89.25)">1500</text>
<text x="488.4" y="89.25" font-size="6.85" fill="#262626" stroke="#262626" stroke-width="0.08" text-anchor="end" transform="rotate(-45 488.4 89.25)">2000</text>
<g transform="translate(402.7 57) rotate(-90)">
<text x="-10.9" y="0" font-size="8.6" fill="#1a1a1a" stroke="#1a1a1a" stroke-width="0.05" font-weight="bold" textLength="9.8" lengthAdjust="spacingAndGlyphs">PFS</text>
<text x="2" y="-1.1" font-size="7.1" fill="#1a1a1a" stroke="#1a1a1a" stroke-width="0.05" font-weight="bold" textLength="8.9" lengthAdjust="spacingAndGlyphs">(%)</text>
</g>
<path d="M429.2 35.7 L430.4 35.7 L430.4 36.8 L431.6 36.8 L431.6 37.9 L432.8 37.9 L432.8 39 L434 39 L434 40.1 L435.2 40.1 L435.2 41.2 L436.65 41.2 L436.65 42.65 L438.1 42.65 L438.1 44.1 L439.55 44.1 L439.55 45.55 L441 45.55 L441 47 L442.45 47 L442.45 48.15 L443.9 48.15 L443.9 49.3 L445.35 49.3 L445.35 50.45 L446.8 50.45 L446.8 51.6 L447.95 51.6 L447.95 52.48 L449.1 52.48 L449.1 53.35 L450.25 53.35 L450.25 54.23 L451.4 54.23 L451.4 55.1 L452.85 55.1 L452.85 56.55 L454.3 56.55 L454.3 58 L457.7 58 L459.15 58 L459.15 58.85 L460.6 58.85 L460.6 59.7 L462.3 59.7 L462.3 61.1 L464.1 61.1 L464.1 62.6 L478.5 62.6" fill="none" stroke="#2f4f8f" stroke-width="1.0" stroke-linejoin="round"/>
<path d="M429.2 35.7 L430.58 35.7 L430.58 36.53 L431.97 36.53 L431.97 37.37 L433.35 37.37 L433.35 38.2 L434.73 38.2 L434.73 39.03 L436.12 39.03 L436.12 39.87 L437.5 39.87 L437.5 40.7 L438.95 40.7 L438.95 41.55 L440.4 41.55 L440.4 42.4 L441.85 42.4 L441.85 43.25 L443.3 43.25 L443.3 44.1 L444.75 44.1 L444.75 45.12 L446.2 45.12 L446.2 46.15 L447.65 46.15 L447.65 47.18 L449.1 47.18 L449.1 48.2 L450.53 48.2 L450.53 49.35 L451.95 49.35 L451.95 50.5 L453.38 50.5 L453.38 51.65 L454.8 51.65 L454.8 52.8 L456.25 52.8 L456.25 53.38 L457.7 53.38 L457.7 53.95 L459.15 53.95 L459.15 54.52 L460.6 54.52 L460.6 55.1 L461.75 55.1 L461.75 55.67 L462.9 55.67 L462.9 56.25 L464.05 56.25 L464.05 56.83 L465.2 56.83 L465.2 57.4 L466.35 57.4 L466.35 58.55 L467.5 58.55 L467.5 59.7 L468.9 59.7 L468.9 62.2 L469.3 62.2 L469.3 66.4 L476.2 66.4" fill="none" stroke="#c0143c" stroke-width="1.35" stroke-linejoin="round"/>
<text x="429.6" y="71.5" font-size="5.4" fill="#555" stroke="#555" stroke-width="0.12" textLength="23.1" lengthAdjust="spacingAndGlyphs">p = 0.034</text>
<text x="481.9" y="62.4" font-size="5.5" fill="#555" stroke="#555" stroke-width="0.12"><tspan font-style="italic">n</tspan> = 161</text>
<text x="481.9" y="70.1" font-size="5.5" fill="#555" stroke="#555" stroke-width="0.12"><tspan font-style="italic">n</tspan> = 541</text>
<path d="M318.5 107.5V154.35H380.88" fill="none" stroke="#111" stroke-width="1.15"/>
<path d="M315.3 152.4H318.5M315.3 141.82H318.5M315.3 131.25H318.5M315.3 120.67H318.5M315.3 110.1H318.5M321.4 154.35V157.05M335.62 154.35V157.05M349.84 154.35V157.05M364.06 154.35V157.05M378.28 154.35V157.05" stroke="#1a1a1a" stroke-width="1.0"/>
<text x="312.1" y="154" font-size="6.1" fill="#262626" stroke="#262626" stroke-width="0.14" text-anchor="end">0.00</text>
<text x="312.1" y="143.42" font-size="6.1" fill="#262626" stroke="#262626" stroke-width="0.14" text-anchor="end">0.25</text>
<text x="312.1" y="132.85" font-size="6.1" fill="#262626" stroke="#262626" stroke-width="0.14" text-anchor="end">0.50</text>
<text x="312.1" y="122.27" font-size="6.1" fill="#262626" stroke="#262626" stroke-width="0.14" text-anchor="end">0.75</text>
<text x="312.1" y="111.7" font-size="6.1" fill="#262626" stroke="#262626" stroke-width="0.14" text-anchor="end">1.00</text>
<text x="324.4" y="163.65" font-size="6.85" fill="#262626" stroke="#262626" stroke-width="0.08" text-anchor="end" transform="rotate(-45 324.4 163.65)">0</text>
<text x="338.62" y="163.65" font-size="6.85" fill="#262626" stroke="#262626" stroke-width="0.08" text-anchor="end" transform="rotate(-45 338.62 163.65)">500</text>
<text x="352.84" y="163.65" font-size="6.85" fill="#262626" stroke="#262626" stroke-width="0.08" text-anchor="end" transform="rotate(-45 352.84 163.65)">1000</text>
<text x="367.06" y="163.65" font-size="6.85" fill="#262626" stroke="#262626" stroke-width="0.08" text-anchor="end" transform="rotate(-45 367.06 163.65)">1500</text>
<text x="381.28" y="163.65" font-size="6.85" fill="#262626" stroke="#262626" stroke-width="0.08" text-anchor="end" transform="rotate(-45 381.28 163.65)">2000</text>
<g transform="translate(295.2 131.1) rotate(-90)">
<text x="-9.55" y="0" font-size="8.6" fill="#1a1a1a" stroke="#1a1a1a" stroke-width="0.05" font-weight="bold" textLength="6.6" lengthAdjust="spacingAndGlyphs">OS</text>
<text x="-0.35" y="-1.1" font-size="7.1" fill="#1a1a1a" stroke="#1a1a1a" stroke-width="0.05" font-weight="bold" textLength="9.9" lengthAdjust="spacingAndGlyphs">(%)</text>
</g>
<path d="M321.5 110.1 L323.43 110.1 L323.43 110.48 L325.37 110.48 L325.37 110.87 L327.3 110.87 L327.3 111.25 L329.23 111.25 L329.23 111.63 L331.17 111.63 L331.17 112.02 L333.1 112.02 L333.1 112.4 L334.37 112.4 L334.37 112.86 L335.64 112.86 L335.64 113.31 L336.91 113.31 L336.91 113.77 L338.19 113.77 L338.19 114.23 L339.46 114.23 L339.46 114.69 L340.73 114.69 L340.73 115.14 L342 115.14 L342 115.6 L343.32 115.6 L343.32 116 L344.65 116 L344.65 116.4 L345.98 116.4 L345.98 116.8 L347.3 116.8 L347.3 117.2 L349.07 117.2 L349.07 117.67 L350.83 117.67 L350.83 118.13 L352.6 118.13 L352.6 118.6 L353.5 118.6 L353.5 121.3 L354.4 121.3 L354.4 124.9 L371.2 124.9" fill="none" stroke="#2f4f8f" stroke-width="1.0" stroke-linejoin="round"/>
<path d="M321.5 110.1 L322.79 110.1 L322.79 110.46 L324.08 110.46 L324.08 110.81 L325.37 110.81 L325.37 111.17 L326.66 111.17 L326.66 111.52 L327.94 111.52 L327.94 111.88 L329.23 111.88 L329.23 112.23 L330.52 112.23 L330.52 112.59 L331.81 112.59 L331.81 112.94 L333.1 112.94 L333.1 113.3 L334.37 113.3 L334.37 113.81 L335.64 113.81 L335.64 114.33 L336.91 114.33 L336.91 114.84 L338.19 114.84 L338.19 115.36 L339.46 115.36 L339.46 115.87 L340.73 115.87 L340.73 116.39 L342 116.39 L342 116.9 L343.32 116.9 L343.32 117.34 L344.65 117.34 L344.65 117.78 L345.98 117.78 L345.98 118.21 L347.3 118.21 L347.3 118.65 L348.62 118.65 L348.62 119.09 L349.95 119.09 L349.95 119.53 L351.28 119.53 L351.28 119.96 L352.6 119.96 L352.6 120.4 L354.4 120.4 L354.4 121 L360.6 121 L360.6 121.35 L366.8 121.35 L366.8 121.7 L367.7 121.7 L367.7 124.9 L368.6 124.9 L368.6 130.5 L370.4 130.5" fill="none" stroke="#c0143c" stroke-width="1.35" stroke-linejoin="round"/>
<text x="322.2" y="146.1" font-size="5.4" fill="#555" stroke="#555" stroke-width="0.12" textLength="19.5" lengthAdjust="spacingAndGlyphs">p = 0.74</text>
<text x="373" y="125.9" font-size="5.5" fill="#555" stroke="#555" stroke-width="0.12"><tspan font-style="italic">n</tspan> = 83</text>
<text x="373" y="133.6" font-size="5.5" fill="#555" stroke="#555" stroke-width="0.12"><tspan font-style="italic">n</tspan> = 620</text>
<path d="M425.7 107.4V154.35H488.1" fill="none" stroke="#111" stroke-width="1.15"/>
<path d="M422.5 152.4H425.7M422.5 141.8H425.7M422.5 131.2H425.7M422.5 120.6H425.7M422.5 110H425.7M428.7 154.35V157.05M442.9 154.35V157.05M457.1 154.35V157.05M471.3 154.35V157.05M485.5 154.35V157.05" stroke="#1a1a1a" stroke-width="1.0"/>
<text x="419.3" y="154" font-size="6.1" fill="#262626" stroke="#262626" stroke-width="0.14" text-anchor="end">0.00</text>
<text x="419.3" y="143.4" font-size="6.1" fill="#262626" stroke="#262626" stroke-width="0.14" text-anchor="end">0.25</text>
<text x="419.3" y="132.8" font-size="6.1" fill="#262626" stroke="#262626" stroke-width="0.14" text-anchor="end">0.50</text>
<text x="419.3" y="122.2" font-size="6.1" fill="#262626" stroke="#262626" stroke-width="0.14" text-anchor="end">0.75</text>
<text x="419.3" y="111.6" font-size="6.1" fill="#262626" stroke="#262626" stroke-width="0.14" text-anchor="end">1.00</text>
<text x="431.7" y="163.65" font-size="6.85" fill="#262626" stroke="#262626" stroke-width="0.08" text-anchor="end" transform="rotate(-45 431.7 163.65)">0</text>
<text x="445.9" y="163.65" font-size="6.85" fill="#262626" stroke="#262626" stroke-width="0.08" text-anchor="end" transform="rotate(-45 445.9 163.65)">500</text>
<text x="460.1" y="163.65" font-size="6.85" fill="#262626" stroke="#262626" stroke-width="0.08" text-anchor="end" transform="rotate(-45 460.1 163.65)">1000</text>
<text x="474.3" y="163.65" font-size="6.85" fill="#262626" stroke="#262626" stroke-width="0.08" text-anchor="end" transform="rotate(-45 474.3 163.65)">1500</text>
<text x="488.5" y="163.65" font-size="6.85" fill="#262626" stroke="#262626" stroke-width="0.08" text-anchor="end" transform="rotate(-45 488.5 163.65)">2000</text>
<g transform="translate(402.7 131.4) rotate(-90)">
<text x="-10.9" y="0" font-size="8.6" fill="#1a1a1a" stroke="#1a1a1a" stroke-width="0.05" font-weight="bold" textLength="9.8" lengthAdjust="spacingAndGlyphs">PFS</text>
<text x="2" y="-1.1" font-size="7.1" fill="#1a1a1a" stroke="#1a1a1a" stroke-width="0.05" font-weight="bold" textLength="8.9" lengthAdjust="spacingAndGlyphs">(%)</text>
</g>
<path d="M429.2 110 L430.43 110 L430.43 110.97 L431.67 110.97 L431.67 111.93 L432.9 111.93 L432.9 112.9 L434.07 112.9 L434.07 114.43 L435.23 114.43 L435.23 115.97 L436.4 115.97 L436.4 117.5 L437.85 117.5 L437.85 118.38 L439.3 118.38 L439.3 119.25 L440.75 119.25 L440.75 120.12 L442.2 120.12 L442.2 121 L443.35 121 L443.35 121.58 L444.5 121.58 L444.5 122.15 L445.65 122.15 L445.65 122.72 L446.8 122.72 L446.8 123.3 L448.25 123.3 L448.25 125.6 L449.7 125.6 L449.7 127.9 L450.85 127.9 L450.85 129.05 L452 129.05 L452 130.2 L453.15 130.2 L453.15 131.35 L454.3 131.35 L454.3 132.5 L459.5 132.5 L460.6 132.5 L460.6 135.4 L477.9 135.4" fill="none" stroke="#2f4f8f" stroke-width="1.0" stroke-linejoin="round"/>
<path d="M429.2 110 L430.58 110 L430.58 110.97 L431.97 110.97 L431.97 111.93 L433.35 111.93 L433.35 112.9 L434.73 112.9 L434.73 113.87 L436.12 113.87 L436.12 114.83 L437.5 114.83 L437.5 115.8 L438.95 115.8 L438.95 116.8 L440.4 116.8 L440.4 117.8 L441.85 117.8 L441.85 118.8 L443.3 118.8 L443.3 119.8 L444.75 119.8 L444.75 120.97 L446.2 120.97 L446.2 122.15 L447.65 122.15 L447.65 123.33 L449.1 123.33 L449.1 124.5 L450.53 124.5 L450.53 125.42 L451.95 125.42 L451.95 126.35 L453.38 126.35 L453.38 127.27 L454.8 127.27 L454.8 128.2 L456.25 128.2 L456.25 128.85 L457.7 128.85 L457.7 129.5 L459.15 129.5 L459.15 130.15 L460.6 130.15 L460.6 130.8 L461.88 130.8 L461.88 131.5 L463.16 131.5 L463.16 132.2 L464.44 132.2 L464.44 132.9 L465.72 132.9 L465.72 133.6 L467 133.6 L467 134.3 L468.5 134.3 L468.5 135.4 L468.9 135.4 L468.9 140.6 L475.8 140.6" fill="none" stroke="#c0143c" stroke-width="1.35" stroke-linejoin="round"/>
<text x="429.3" y="146.1" font-size="5.4" fill="#555" stroke="#555" stroke-width="0.12" textLength="20" lengthAdjust="spacingAndGlyphs">p = 0.28</text>
<text x="483.5" y="135.6" font-size="5.5" fill="#555" stroke="#555" stroke-width="0.12"><tspan font-style="italic">n</tspan> = 83</text>
<text x="483.5" y="142.9" font-size="5.5" fill="#555" stroke="#555" stroke-width="0.12"><tspan font-style="italic">n</tspan> = 619</text>
<path d="M65.7 221.7V268.85H128.62" fill="none" stroke="#111" stroke-width="1.15"/>
<path d="M62.5 266.9H65.7M62.5 256.25H65.7M62.5 245.6H65.7M62.5 234.95H65.7M62.5 224.3H65.7M68.5 268.85V271.55M82.88 268.85V271.55M97.26 268.85V271.55M111.64 268.85V271.55M126.02 268.85V271.55" stroke="#1a1a1a" stroke-width="1.0"/>
<text x="59.3" y="268.5" font-size="6.1" fill="#262626" stroke="#262626" stroke-width="0.14" text-anchor="end">0.00</text>
<text x="59.3" y="257.85" font-size="6.1" fill="#262626" stroke="#262626" stroke-width="0.14" text-anchor="end">0.25</text>
<text x="59.3" y="247.2" font-size="6.1" fill="#262626" stroke="#262626" stroke-width="0.14" text-anchor="end">0.50</text>
<text x="59.3" y="236.55" font-size="6.1" fill="#262626" stroke="#262626" stroke-width="0.14" text-anchor="end">0.75</text>
<text x="59.3" y="225.9" font-size="6.1" fill="#262626" stroke="#262626" stroke-width="0.14" text-anchor="end">1.00</text>
<text x="71.5" y="278.15" font-size="6.85" fill="#262626" stroke="#262626" stroke-width="0.08" text-anchor="end" transform="rotate(-45 71.5 278.15)">0</text>
<text x="85.88" y="278.15" font-size="6.85" fill="#262626" stroke="#262626" stroke-width="0.08" text-anchor="end" transform="rotate(-45 85.88 278.15)">500</text>
<text x="100.26" y="278.15" font-size="6.85" fill="#262626" stroke="#262626" stroke-width="0.08" text-anchor="end" transform="rotate(-45 100.26 278.15)">1000</text>
<text x="114.64" y="278.15" font-size="6.85" fill="#262626" stroke="#262626" stroke-width="0.08" text-anchor="end" transform="rotate(-45 114.64 278.15)">1500</text>
<text x="129.02" y="278.15" font-size="6.85" fill="#262626" stroke="#262626" stroke-width="0.08" text-anchor="end" transform="rotate(-45 129.02 278.15)">2000</text>
<g transform="translate(41.6 246.3) rotate(-90)">
<text x="-9.55" y="0" font-size="8.6" fill="#1a1a1a" stroke="#1a1a1a" stroke-width="0.05" font-weight="bold" textLength="6.6" lengthAdjust="spacingAndGlyphs">OS</text>
<text x="-0.35" y="-1.1" font-size="7.1" fill="#1a1a1a" stroke="#1a1a1a" stroke-width="0.05" font-weight="bold" textLength="9.9" lengthAdjust="spacingAndGlyphs">(%)</text>
</g>
<path d="M68.3 224.4 L69.8 224.4 L69.8 224.77 L71.3 224.77 L71.3 225.14 L72.8 225.14 L72.8 225.51 L74.3 225.51 L74.3 225.88 L75.8 225.88 L75.8 226.25 L77.3 226.25 L77.3 226.62 L78.8 226.62 L78.8 226.99 L80.3 226.99 L80.3 227.36 L81.8 227.36 L81.8 227.73 L83.3 227.73 L83.3 228.1 L83.3 229.2 L84.45 229.2 L84.45 229.55 L85.6 229.55 L85.6 229.9 L86.75 229.9 L86.75 230.25 L87.9 230.25 L87.9 230.6 L88.2 231.3 L106.4 231.3 L106.4 235 L115.6 235" fill="none" stroke="#c0143c" stroke-width="0.9" stroke-linejoin="round"/>
<path d="M68.3 224.4 L69.61 224.4 L69.61 224.84 L70.93 224.84 L70.93 225.29 L72.24 225.29 L72.24 225.73 L73.56 225.73 L73.56 226.17 L74.87 226.17 L74.87 226.61 L76.19 226.61 L76.19 227.06 L77.5 227.06 L77.5 227.5 L78.95 227.5 L78.95 228.07 L80.4 228.07 L80.4 228.65 L81.85 228.65 L81.85 229.23 L83.3 229.23 L83.3 229.8 L84.45 229.8 L84.45 230.23 L85.6 230.23 L85.6 230.65 L86.75 230.65 L86.75 231.07 L87.9 231.07 L87.9 231.5 L90.8 231.5 L90.8 232.1 L92.25 232.1 L92.25 232.7 L93.7 232.7 L93.7 233.3 L94.85 233.3 L94.85 233.85 L96 233.85 L96 234.4 L99.5 234.4 L100.6 234.4 L100.6 238.2 L117.9 238.2" fill="none" stroke="#2f4f8f" stroke-width="0.88" stroke-linejoin="round"/>
<text x="69.2" y="260.8" font-size="5.4" fill="#555" stroke="#555" stroke-width="0.12" textLength="19.2" lengthAdjust="spacingAndGlyphs">p = 0.31</text>
<text x="119.1" y="234.4" font-size="5.5" fill="#555" stroke="#555" stroke-width="0.12"><tspan font-style="italic">n</tspan> = 121</text>
<text x="119.1" y="242.9" font-size="5.5" fill="#555" stroke="#555" stroke-width="0.12"><tspan font-style="italic">n</tspan> = 138</text>
<path d="M172.1 221.7V268.95H234.2" fill="none" stroke="#111" stroke-width="1.15"/>
<path d="M168.9 267H172.1M168.9 256.32H172.1M168.9 245.65H172.1M168.9 234.98H172.1M168.9 224.3H172.1M174.8 268.95V271.65M189 268.95V271.65M203.2 268.95V271.65M217.4 268.95V271.65M231.6 268.95V271.65" stroke="#1a1a1a" stroke-width="1.0"/>
<text x="165.7" y="268.6" font-size="6.1" fill="#262626" stroke="#262626" stroke-width="0.14" text-anchor="end">0.00</text>
<text x="165.7" y="257.93" font-size="6.1" fill="#262626" stroke="#262626" stroke-width="0.14" text-anchor="end">0.25</text>
<text x="165.7" y="247.25" font-size="6.1" fill="#262626" stroke="#262626" stroke-width="0.14" text-anchor="end">0.50</text>
<text x="165.7" y="236.58" font-size="6.1" fill="#262626" stroke="#262626" stroke-width="0.14" text-anchor="end">0.75</text>
<text x="165.7" y="225.9" font-size="6.1" fill="#262626" stroke="#262626" stroke-width="0.14" text-anchor="end">1.00</text>
<text x="177.8" y="278.25" font-size="6.85" fill="#262626" stroke="#262626" stroke-width="0.08" text-anchor="end" transform="rotate(-45 177.8 278.25)">0</text>
<text x="192" y="278.25" font-size="6.85" fill="#262626" stroke="#262626" stroke-width="0.08" text-anchor="end" transform="rotate(-45 192 278.25)">500</text>
<text x="206.2" y="278.25" font-size="6.85" fill="#262626" stroke="#262626" stroke-width="0.08" text-anchor="end" transform="rotate(-45 206.2 278.25)">1000</text>
<text x="220.4" y="278.25" font-size="6.85" fill="#262626" stroke="#262626" stroke-width="0.08" text-anchor="end" transform="rotate(-45 220.4 278.25)">1500</text>
<text x="234.6" y="278.25" font-size="6.85" fill="#262626" stroke="#262626" stroke-width="0.08" text-anchor="end" transform="rotate(-45 234.6 278.25)">2000</text>
<g transform="translate(148.2 245.8) rotate(-90)">
<text x="-10.9" y="0" font-size="8.6" fill="#1a1a1a" stroke="#1a1a1a" stroke-width="0.05" font-weight="bold" textLength="9.8" lengthAdjust="spacingAndGlyphs">PFS</text>
<text x="2" y="-1.1" font-size="7.1" fill="#1a1a1a" stroke="#1a1a1a" stroke-width="0.05" font-weight="bold" textLength="8.9" lengthAdjust="spacingAndGlyphs">(%)</text>
</g>
<path d="M175.5 224.4 L176.65 224.4 L176.65 224.75 L177.8 224.75 L177.8 225.1 L178.95 225.1 L178.95 225.45 L180.1 225.45 L180.1 225.8 L181.55 225.8 L181.55 227.25 L183 227.25 L183 228.7 L184.13 228.7 L184.13 229.07 L185.27 229.07 L185.27 229.43 L186.4 229.43 L186.4 229.8 L187.77 229.8 L187.77 231.33 L189.13 231.33 L189.13 232.87 L190.5 232.87 L190.5 234.4 L191.9 234.4 L191.9 235 L193.3 235 L193.3 235.6 L194.75 235.6 L194.75 236.75 L196.2 236.75 L196.2 237.9 L197.65 237.9 L197.65 238.45 L199.1 238.45 L199.1 239 L202.6 239 L203.7 239 L203.7 241.3 L208.9 241.3 L208.9 241.9 L210.1 241.9 L210.1 244.2 L213.5 244.2 L214.1 244.2 L214.1 249.4 L215.3 249.4 L215.6 253.5 L220.5 253.5" fill="none" stroke="#c0143c" stroke-width="0.9" stroke-linejoin="round"/>
<path d="M175.5 224.4 L176.8 224.4 L176.8 225.9 L178.1 225.9 L178.1 227.4 L179.4 227.4 L179.4 228.9 L180.7 228.9 L180.7 230.4 L182.03 230.4 L182.03 231.73 L183.37 231.73 L183.37 233.07 L184.7 233.07 L184.7 234.4 L185.87 234.4 L185.87 235.17 L187.03 235.17 L187.03 235.93 L188.2 235.93 L188.2 236.7 L189.33 236.7 L189.33 237.47 L190.47 237.47 L190.47 238.23 L191.6 238.23 L191.6 239 L192.77 239 L192.77 240.17 L193.93 240.17 L193.93 241.33 L195.1 241.33 L195.1 242.5 L196.4 242.5 L196.4 243.8 L197.7 243.8 L197.7 245.1 L199 245.1 L199 246.4 L200.3 246.4 L200.3 247.7 L205.5 247.7 L205.5 248.3 L206.6 248.3 L206.6 250.2 L223.9 250.2" fill="none" stroke="#2f4f8f" stroke-width="0.88" stroke-linejoin="round"/>
<text x="175.6" y="260.5" font-size="5.4" fill="#555" stroke="#555" stroke-width="0.12" textLength="22.7" lengthAdjust="spacingAndGlyphs">p = 0.022</text>
<text x="225" y="250.7" font-size="5.5" fill="#555" stroke="#555" stroke-width="0.12"><tspan font-style="italic">n</tspan> = 138</text>
<text x="225" y="258.3" font-size="5.5" fill="#555" stroke="#555" stroke-width="0.12"><tspan font-style="italic">n</tspan> = 121</text>
<path d="M65.8 306.1V353.35H128.62" fill="none" stroke="#111" stroke-width="1.15"/>
<path d="M62.6 351.4H65.8M62.6 340.72H65.8M62.6 330.05H65.8M62.6 319.38H65.8M62.6 308.7H65.8M68.5 353.35V356.05M82.88 353.35V356.05M97.26 353.35V356.05M111.64 353.35V356.05M126.02 353.35V356.05" stroke="#1a1a1a" stroke-width="1.0"/>
<text x="59.4" y="353" font-size="6.1" fill="#262626" stroke="#262626" stroke-width="0.14" text-anchor="end">0.00</text>
<text x="59.4" y="342.32" font-size="6.1" fill="#262626" stroke="#262626" stroke-width="0.14" text-anchor="end">0.25</text>
<text x="59.4" y="331.65" font-size="6.1" fill="#262626" stroke="#262626" stroke-width="0.14" text-anchor="end">0.50</text>
<text x="59.4" y="320.98" font-size="6.1" fill="#262626" stroke="#262626" stroke-width="0.14" text-anchor="end">0.75</text>
<text x="59.4" y="310.3" font-size="6.1" fill="#262626" stroke="#262626" stroke-width="0.14" text-anchor="end">1.00</text>
<text x="71.5" y="362.65" font-size="6.85" fill="#262626" stroke="#262626" stroke-width="0.08" text-anchor="end" transform="rotate(-45 71.5 362.65)">0</text>
<text x="85.88" y="362.65" font-size="6.85" fill="#262626" stroke="#262626" stroke-width="0.08" text-anchor="end" transform="rotate(-45 85.88 362.65)">500</text>
<text x="100.26" y="362.65" font-size="6.85" fill="#262626" stroke="#262626" stroke-width="0.08" text-anchor="end" transform="rotate(-45 100.26 362.65)">1000</text>
<text x="114.64" y="362.65" font-size="6.85" fill="#262626" stroke="#262626" stroke-width="0.08" text-anchor="end" transform="rotate(-45 114.64 362.65)">1500</text>
<text x="129.02" y="362.65" font-size="6.85" fill="#262626" stroke="#262626" stroke-width="0.08" text-anchor="end" transform="rotate(-45 129.02 362.65)">2000</text>
<g transform="translate(41.6 330.5) rotate(-90)">
<text x="-9.55" y="0" font-size="8.6" fill="#1a1a1a" stroke="#1a1a1a" stroke-width="0.05" font-weight="bold" textLength="6.6" lengthAdjust="spacingAndGlyphs">OS</text>
<text x="-0.35" y="-1.1" font-size="7.1" fill="#1a1a1a" stroke="#1a1a1a" stroke-width="0.05" font-weight="bold" textLength="9.9" lengthAdjust="spacingAndGlyphs">(%)</text>
</g>
<path d="M68.5 308.9 L70.5 308.9 L70.5 309.27 L72.5 309.27 L72.5 309.64 L74.5 309.64 L74.5 310.01 L76.5 310.01 L76.5 310.39 L78.5 310.39 L78.5 310.76 L80.5 310.76 L80.5 311.13 L82.5 311.13 L82.5 311.5 L83.7 311.5 L83.7 312 L84.9 312 L84.9 312.5 L84.9 315.1 L88 315.1 L88 315.6 L116 315.6" fill="none" stroke="#c0143c" stroke-width="0.9" stroke-linejoin="round"/>
<path d="M68.5 308.9 L70.19 308.9 L70.19 309.29 L71.88 309.29 L71.88 309.67 L73.56 309.67 L73.56 310.06 L75.25 310.06 L75.25 310.45 L76.94 310.45 L76.94 310.84 L78.62 310.84 L78.62 311.23 L80.31 311.23 L80.31 311.61 L82 311.61 L82 312 L83.33 312 L83.33 313.17 L84.67 313.17 L84.67 314.33 L86 314.33 L86 315.5 L89.5 315.5 L89.5 316 L93 316 L93 316.5 L94.25 316.5 L94.25 316.95 L95.5 316.95 L95.5 317.4 L99 317.4 L100.1 317.4 L100.1 320.7 L101.2 320.7 L101.2 324 L117.7 324" fill="none" stroke="#2f4f8f" stroke-width="0.88" stroke-linejoin="round"/>
<text x="69.2" y="345.1" font-size="5.4" fill="#555" stroke="#555" stroke-width="0.12" textLength="20.1" lengthAdjust="spacingAndGlyphs">p = 0.34</text>
<text x="119.1" y="317.2" font-size="5.5" fill="#555" stroke="#555" stroke-width="0.12"><tspan font-style="italic">n</tspan> = 89</text>
<text x="119.1" y="326.5" font-size="5.5" fill="#555" stroke="#555" stroke-width="0.12"><tspan font-style="italic">n</tspan> = 83</text>
<path d="M172.1 306.2V353.45H234.2" fill="none" stroke="#111" stroke-width="1.15"/>
<path d="M168.9 351.5H172.1M168.9 340.82H172.1M168.9 330.15H172.1M168.9 319.48H172.1M168.9 308.8H172.1M174.8 353.45V356.15M189 353.45V356.15M203.2 353.45V356.15M217.4 353.45V356.15M231.6 353.45V356.15" stroke="#1a1a1a" stroke-width="1.0"/>
<text x="165.7" y="353.1" font-size="6.1" fill="#262626" stroke="#262626" stroke-width="0.14" text-anchor="end">0.00</text>
<text x="165.7" y="342.43" font-size="6.1" fill="#262626" stroke="#262626" stroke-width="0.14" text-anchor="end">0.25</text>
<text x="165.7" y="331.75" font-size="6.1" fill="#262626" stroke="#262626" stroke-width="0.14" text-anchor="end">0.50</text>
<text x="165.7" y="321.08" font-size="6.1" fill="#262626" stroke="#262626" stroke-width="0.14" text-anchor="end">0.75</text>
<text x="165.7" y="310.4" font-size="6.1" fill="#262626" stroke="#262626" stroke-width="0.14" text-anchor="end">1.00</text>
<text x="177.8" y="362.75" font-size="6.85" fill="#262626" stroke="#262626" stroke-width="0.08" text-anchor="end" transform="rotate(-45 177.8 362.75)">0</text>
<text x="192" y="362.75" font-size="6.85" fill="#262626" stroke="#262626" stroke-width="0.08" text-anchor="end" transform="rotate(-45 192 362.75)">500</text>
<text x="206.2" y="362.75" font-size="6.85" fill="#262626" stroke="#262626" stroke-width="0.08" text-anchor="end" transform="rotate(-45 206.2 362.75)">1000</text>
<text x="220.4" y="362.75" font-size="6.85" fill="#262626" stroke="#262626" stroke-width="0.08" text-anchor="end" transform="rotate(-45 220.4 362.75)">1500</text>
<text x="234.6" y="362.75" font-size="6.85" fill="#262626" stroke="#262626" stroke-width="0.08" text-anchor="end" transform="rotate(-45 234.6 362.75)">2000</text>
<g transform="translate(148.2 330) rotate(-90)">
<text x="-10.9" y="0" font-size="8.6" fill="#1a1a1a" stroke="#1a1a1a" stroke-width="0.05" font-weight="bold" textLength="9.8" lengthAdjust="spacingAndGlyphs">PFS</text>
<text x="2" y="-1.1" font-size="7.1" fill="#1a1a1a" stroke="#1a1a1a" stroke-width="0.05" font-weight="bold" textLength="8.9" lengthAdjust="spacingAndGlyphs">(%)</text>
</g>
<path d="M175.5 308.8 L178.9 308.8 L178.9 309.5 L180.07 309.5 L180.07 310.17 L181.23 310.17 L181.23 310.83 L182.4 310.83 L182.4 311.5 L183.53 311.5 L183.53 312.07 L184.67 312.07 L184.67 312.63 L185.8 312.63 L185.8 313.2 L186.97 313.2 L186.97 314.37 L188.13 314.37 L188.13 315.53 L189.3 315.53 L189.3 316.7 L190.47 316.7 L190.47 317.47 L191.63 317.47 L191.63 318.23 L192.8 318.23 L192.8 319 L194.25 319 L194.25 320.15 L195.7 320.15 L195.7 321.3 L196.2 321.3 L196.2 322.5 L199.7 322.5 L199.7 323 L200.85 323 L200.85 323.6 L202 323.6 L202 324.2 L203.15 324.2 L203.15 324.75 L204.3 324.75 L204.3 325.3 L213.5 325.3 L214.1 325.3 L214.1 343.2 L220.5 343.2" fill="none" stroke="#c0143c" stroke-width="0.9" stroke-linejoin="round"/>
<path d="M175.5 308.8 L176.63 308.8 L176.63 309.9 L177.77 309.9 L177.77 311 L178.9 311 L178.9 312.1 L180.27 312.1 L180.27 313.63 L181.63 313.63 L181.63 315.17 L183 315.17 L183 316.7 L184.13 316.7 L184.13 317.47 L185.27 317.47 L185.27 318.23 L186.4 318.23 L186.4 319 L187.77 319 L187.77 319.77 L189.13 319.77 L189.13 320.53 L190.5 320.53 L190.5 321.3 L191.63 321.3 L191.63 322.27 L192.77 322.27 L192.77 323.23 L193.9 323.23 L193.9 324.2 L195.07 324.2 L195.07 325.53 L196.23 325.53 L196.23 326.87 L197.4 326.87 L197.4 328.2 L198.53 328.2 L198.53 329.37 L199.67 329.37 L199.67 330.53 L200.8 330.53 L200.8 331.7 L206 331.9 L207.2 331.9 L207.2 334.2 L223.9 334.2" fill="none" stroke="#2f4f8f" stroke-width="0.88" stroke-linejoin="round"/>
<text x="175.6" y="344.8" font-size="5.4" fill="#555" stroke="#555" stroke-width="0.12" textLength="22.1" lengthAdjust="spacingAndGlyphs">p = 0.074</text>
<text x="225" y="335.3" font-size="5.5" fill="#555" stroke="#555" stroke-width="0.12"><tspan font-style="italic">n</tspan> = 83</text>
<text x="225" y="344.6" font-size="5.5" fill="#555" stroke="#555" stroke-width="0.12"><tspan font-style="italic">n</tspan> = 89</text>
<path d="M323 221.6V268.85H384.8" fill="none" stroke="#111" stroke-width="1.15"/>
<path d="M319.8 266.9H323M319.8 256.22H323M319.8 245.55H323M319.8 234.88H323M319.8 224.2H323M325.6 268.85V271.55M339.75 268.85V271.55M353.9 268.85V271.55M368.05 268.85V271.55M382.2 268.85V271.55" stroke="#1a1a1a" stroke-width="1.0"/>
<text x="316.6" y="268.5" font-size="6.1" fill="#262626" stroke="#262626" stroke-width="0.14" text-anchor="end">0.00</text>
<text x="316.6" y="257.82" font-size="6.1" fill="#262626" stroke="#262626" stroke-width="0.14" text-anchor="end">0.25</text>
<text x="316.6" y="247.15" font-size="6.1" fill="#262626" stroke="#262626" stroke-width="0.14" text-anchor="end">0.50</text>
<text x="316.6" y="236.47" font-size="6.1" fill="#262626" stroke="#262626" stroke-width="0.14" text-anchor="end">0.75</text>
<text x="316.6" y="225.8" font-size="6.1" fill="#262626" stroke="#262626" stroke-width="0.14" text-anchor="end">1.00</text>
<text x="328.6" y="278.15" font-size="6.85" fill="#262626" stroke="#262626" stroke-width="0.08" text-anchor="end" transform="rotate(-45 328.6 278.15)">0</text>
<text x="342.75" y="278.15" font-size="6.85" fill="#262626" stroke="#262626" stroke-width="0.08" text-anchor="end" transform="rotate(-45 342.75 278.15)">400</text>
<text x="356.9" y="278.15" font-size="6.85" fill="#262626" stroke="#262626" stroke-width="0.08" text-anchor="end" transform="rotate(-45 356.9 278.15)">800</text>
<text x="371.05" y="278.15" font-size="6.85" fill="#262626" stroke="#262626" stroke-width="0.08" text-anchor="end" transform="rotate(-45 371.05 278.15)">1200</text>
<text x="385.2" y="278.15" font-size="6.85" fill="#262626" stroke="#262626" stroke-width="0.08" text-anchor="end" transform="rotate(-45 385.2 278.15)">1600</text>
<g transform="translate(298.9 246.1) rotate(-90)">
<text x="-9.55" y="0" font-size="8.6" fill="#1a1a1a" stroke="#1a1a1a" stroke-width="0.05" font-weight="bold" textLength="6.6" lengthAdjust="spacingAndGlyphs">OS</text>
<text x="-0.35" y="-1.1" font-size="7.1" fill="#1a1a1a" stroke="#1a1a1a" stroke-width="0.05" font-weight="bold" textLength="9.9" lengthAdjust="spacingAndGlyphs">(%)</text>
</g>
<path d="M326 224.3 L327.9 224.3 L327.9 224.66 L329.8 224.66 L329.8 225.02 L331.7 225.02 L331.7 225.38 L333.6 225.38 L333.6 225.74 L335.5 225.74 L335.5 226.1 L341.5 226.1 L341.5 226.7 L342.5 226.7 L342.5 227.05 L343.5 227.05 L343.5 227.4 L344.2 227.4 L344.2 228.1 L345.2 228.1 L345.2 228.65 L346.2 228.65 L346.2 229.2 L347 229.4 L381.9 229.4" fill="none" stroke="#c0143c" stroke-width="0.9" stroke-linejoin="round"/>
<path d="M326 224.3 L327.33 224.3 L327.33 224.67 L328.67 224.67 L328.67 225.03 L330 225.03 L330 225.4 L331.83 225.4 L331.83 225.83 L333.67 225.83 L333.67 226.27 L335.5 226.27 L335.5 226.7 L337.73 226.7 L337.73 227.07 L339.97 227.07 L339.97 227.43 L342.2 227.43 L342.2 227.8 L343.33 227.8 L343.33 228.43 L344.47 228.43 L344.47 229.07 L345.6 229.07 L345.6 229.7 L346.9 229.7 L346.9 230.55 L348.2 230.55 L348.2 231.4 L351 231.4 L351 231.8 L355 232.1 L356.3 232.1 L356.3 233.2 L372.5 233.2 L373.1 233.2 L373.1 238.2 L384.6 238.2" fill="none" stroke="#2f4f8f" stroke-width="0.88" stroke-linejoin="round"/>
<text x="326.3" y="260.5" font-size="5.4" fill="#555" stroke="#555" stroke-width="0.12" textLength="19.7" lengthAdjust="spacingAndGlyphs">p = 0.33</text>
<text x="385.3" y="230.7" font-size="5.5" fill="#555" stroke="#555" stroke-width="0.12"><tspan font-style="italic">n</tspan> = 35</text>
<text x="385.3" y="240.4" font-size="5.5" fill="#555" stroke="#555" stroke-width="0.12"><tspan font-style="italic">n</tspan> = 66</text>
<path d="M436 221.6V268.85H498.32" fill="none" stroke="#111" stroke-width="1.15"/>
<path d="M432.8 266.9H436M432.8 256.22H436M432.8 245.55H436M432.8 234.88H436M432.8 224.2H436M439 268.85V271.55M453.18 268.85V271.55M467.36 268.85V271.55M481.54 268.85V271.55M495.72 268.85V271.55" stroke="#1a1a1a" stroke-width="1.0"/>
<text x="429.6" y="268.5" font-size="6.1" fill="#262626" stroke="#262626" stroke-width="0.14" text-anchor="end">0.00</text>
<text x="429.6" y="257.82" font-size="6.1" fill="#262626" stroke="#262626" stroke-width="0.14" text-anchor="end">0.25</text>
<text x="429.6" y="247.15" font-size="6.1" fill="#262626" stroke="#262626" stroke-width="0.14" text-anchor="end">0.50</text>
<text x="429.6" y="236.47" font-size="6.1" fill="#262626" stroke="#262626" stroke-width="0.14" text-anchor="end">0.75</text>
<text x="429.6" y="225.8" font-size="6.1" fill="#262626" stroke="#262626" stroke-width="0.14" text-anchor="end">1.00</text>
<text x="442" y="278.15" font-size="6.85" fill="#262626" stroke="#262626" stroke-width="0.08" text-anchor="end" transform="rotate(-45 442 278.15)">0</text>
<text x="456.18" y="278.15" font-size="6.85" fill="#262626" stroke="#262626" stroke-width="0.08" text-anchor="end" transform="rotate(-45 456.18 278.15)">400</text>
<text x="470.36" y="278.15" font-size="6.85" fill="#262626" stroke="#262626" stroke-width="0.08" text-anchor="end" transform="rotate(-45 470.36 278.15)">800</text>
<text x="484.54" y="278.15" font-size="6.85" fill="#262626" stroke="#262626" stroke-width="0.08" text-anchor="end" transform="rotate(-45 484.54 278.15)">1200</text>
<text x="498.72" y="278.15" font-size="6.85" fill="#262626" stroke="#262626" stroke-width="0.08" text-anchor="end" transform="rotate(-45 498.72 278.15)">1600</text>
<g transform="translate(412.4 245.6) rotate(-90)">
<text x="-10.9" y="0" font-size="8.6" fill="#1a1a1a" stroke="#1a1a1a" stroke-width="0.05" font-weight="bold" textLength="9.8" lengthAdjust="spacingAndGlyphs">PFS</text>
<text x="2" y="-1.1" font-size="7.1" fill="#1a1a1a" stroke="#1a1a1a" stroke-width="0.05" font-weight="bold" textLength="8.9" lengthAdjust="spacingAndGlyphs">(%)</text>
</g>
<path d="M439.7 224.3 L441.33 224.3 L441.33 224.7 L442.97 224.7 L442.97 225.1 L444.6 225.1 L444.6 225.5 L447.7 225.5 L447.7 225.9 L448.3 225.9 L448.3 227.1 L450.15 227.1 L450.15 227.55 L452 227.55 L452 228 L453.25 228 L453.25 228.6 L454.5 228.6 L454.5 229.2 L456.3 229.2 L456.3 230.1 L457.55 230.1 L457.55 232.3 L458.8 232.3 L458.8 234.5 L482.2 234.5 L482.5 234.5 L482.5 239.7 L494.5 239.7" fill="none" stroke="#c0143c" stroke-width="0.9" stroke-linejoin="round"/>
<path d="M439.7 224.3 L440.93 224.3 L440.93 224.7 L442.17 224.7 L442.17 225.1 L443.4 225.1 L443.4 225.5 L444.63 225.5 L444.63 225.93 L445.87 225.93 L445.87 226.37 L447.1 226.37 L447.1 226.8 L448.3 226.8 L448.3 227.85 L449.5 227.85 L449.5 228.9 L451.35 228.9 L451.35 229.35 L453.2 229.35 L453.2 229.8 L454.45 229.8 L454.45 230.75 L455.7 230.75 L455.7 231.7 L456.95 231.7 L456.95 232.95 L458.2 232.95 L458.2 234.2 L459.4 234.2 L459.4 234.8 L460.6 234.8 L460.6 235.4 L461.8 235.4 L461.8 236 L463.03 236 L463.03 237.23 L464.27 237.23 L464.27 238.47 L465.5 238.47 L465.5 239.7 L466.73 239.7 L466.73 240.53 L467.97 240.53 L467.97 241.37 L469.2 241.37 L469.2 242.2 L471.7 242.4 L475.4 242.4 L475.6 247.3 L487.1 247.3 L487.4 253.2 L488.9 253.2 L489.5 253.2 L489.5 260 L495.7 260" fill="none" stroke="#2f4f8f" stroke-width="0.88" stroke-linejoin="round"/>
<text x="440.3" y="260.2" font-size="5.4" fill="#555" stroke="#555" stroke-width="0.12" textLength="22.5" lengthAdjust="spacingAndGlyphs">p = 0.082</text>
<text x="497.5" y="241.8" font-size="5.5" fill="#555" stroke="#555" stroke-width="0.12"><tspan font-style="italic">n</tspan> = 35</text>
<text x="497.5" y="261.9" font-size="5.5" fill="#555" stroke="#555" stroke-width="0.12"><tspan font-style="italic">n</tspan> = 66</text>
<path d="M322.9 306.3V353.45H384.8" fill="none" stroke="#111" stroke-width="1.15"/>
<path d="M319.7 351.5H322.9M319.7 340.85H322.9M319.7 330.2H322.9M319.7 319.55H322.9M319.7 308.9H322.9M325.6 353.45V356.15M339.75 353.45V356.15M353.9 353.45V356.15M368.05 353.45V356.15M382.2 353.45V356.15" stroke="#1a1a1a" stroke-width="1.0"/>
<text x="316.5" y="353.1" font-size="6.1" fill="#262626" stroke="#262626" stroke-width="0.14" text-anchor="end">0.00</text>
<text x="316.5" y="342.45" font-size="6.1" fill="#262626" stroke="#262626" stroke-width="0.14" text-anchor="end">0.25</text>
<text x="316.5" y="331.8" font-size="6.1" fill="#262626" stroke="#262626" stroke-width="0.14" text-anchor="end">0.50</text>
<text x="316.5" y="321.15" font-size="6.1" fill="#262626" stroke="#262626" stroke-width="0.14" text-anchor="end">0.75</text>
<text x="316.5" y="310.5" font-size="6.1" fill="#262626" stroke="#262626" stroke-width="0.14" text-anchor="end">1.00</text>
<text x="328.6" y="362.75" font-size="6.85" fill="#262626" stroke="#262626" stroke-width="0.08" text-anchor="end" transform="rotate(-45 328.6 362.75)">0</text>
<text x="342.75" y="362.75" font-size="6.85" fill="#262626" stroke="#262626" stroke-width="0.08" text-anchor="end" transform="rotate(-45 342.75 362.75)">400</text>
<text x="356.9" y="362.75" font-size="6.85" fill="#262626" stroke="#262626" stroke-width="0.08" text-anchor="end" transform="rotate(-45 356.9 362.75)">800</text>
<text x="371.05" y="362.75" font-size="6.85" fill="#262626" stroke="#262626" stroke-width="0.08" text-anchor="end" transform="rotate(-45 371.05 362.75)">1200</text>
<text x="385.2" y="362.75" font-size="6.85" fill="#262626" stroke="#262626" stroke-width="0.08" text-anchor="end" transform="rotate(-45 385.2 362.75)">1600</text>
<g transform="translate(298.9 330.5) rotate(-90)">
<text x="-9.55" y="0" font-size="8.6" fill="#1a1a1a" stroke="#1a1a1a" stroke-width="0.05" font-weight="bold" textLength="6.6" lengthAdjust="spacingAndGlyphs">OS</text>
<text x="-0.35" y="-1.1" font-size="7.1" fill="#1a1a1a" stroke="#1a1a1a" stroke-width="0.05" font-weight="bold" textLength="9.9" lengthAdjust="spacingAndGlyphs">(%)</text>
</g>
<path d="M326 309.1 L376.9 309.1" fill="none" stroke="#c0143c" stroke-width="0.9" stroke-linejoin="round"/>
<path d="M326 309.1 L329.4 309.1 L330.3 309.1 L330.3 310.1 L334.1 310.1 L334.1 310.5 L335.5 310.5 L335.5 311.4 L337.5 311.4 L337.5 311.85 L339.5 311.85 L339.5 312.3 L340.85 312.3 L340.85 312.75 L342.2 312.75 L342.2 313.2 L344.2 313.2 L344.2 313.7 L345.6 313.7 L345.6 314.8 L346.2 314.8 L346.2 316.8 L354.3 316.8 L355.3 316.8 L355.3 317.45 L356.3 317.45 L356.3 318.1 L384.6 318.1" fill="none" stroke="#2f4f8f" stroke-width="0.88" stroke-linejoin="round"/>
<text x="326.3" y="344.8" font-size="5.4" fill="#555" stroke="#555" stroke-width="0.12" textLength="22.5" lengthAdjust="spacingAndGlyphs">p = 0.026</text>
<text x="386.6" y="310.7" font-size="5.5" fill="#555" stroke="#555" stroke-width="0.12"><tspan font-style="italic">n</tspan> = 23</text>
<text x="386.6" y="319.5" font-size="5.5" fill="#555" stroke="#555" stroke-width="0.12"><tspan font-style="italic">n</tspan> = 66</text>
<path d="M436 306.4V353.35H498.32" fill="none" stroke="#111" stroke-width="1.15"/>
<path d="M432.8 351.4H436M432.8 340.8H436M432.8 330.2H436M432.8 319.6H436M432.8 309H436M439 353.35V356.05M453.18 353.35V356.05M467.36 353.35V356.05M481.54 353.35V356.05M495.72 353.35V356.05" stroke="#1a1a1a" stroke-width="1.0"/>
<text x="429.6" y="353" font-size="6.1" fill="#262626" stroke="#262626" stroke-width="0.14" text-anchor="end">0.00</text>
<text x="429.6" y="342.4" font-size="6.1" fill="#262626" stroke="#262626" stroke-width="0.14" text-anchor="end">0.25</text>
<text x="429.6" y="331.8" font-size="6.1" fill="#262626" stroke="#262626" stroke-width="0.14" text-anchor="end">0.50</text>
<text x="429.6" y="321.2" font-size="6.1" fill="#262626" stroke="#262626" stroke-width="0.14" text-anchor="end">0.75</text>
<text x="429.6" y="310.6" font-size="6.1" fill="#262626" stroke="#262626" stroke-width="0.14" text-anchor="end">1.00</text>
<text x="442" y="362.65" font-size="6.85" fill="#262626" stroke="#262626" stroke-width="0.08" text-anchor="end" transform="rotate(-45 442 362.65)">0</text>
<text x="456.18" y="362.65" font-size="6.85" fill="#262626" stroke="#262626" stroke-width="0.08" text-anchor="end" transform="rotate(-45 456.18 362.65)">400</text>
<text x="470.36" y="362.65" font-size="6.85" fill="#262626" stroke="#262626" stroke-width="0.08" text-anchor="end" transform="rotate(-45 470.36 362.65)">800</text>
<text x="484.54" y="362.65" font-size="6.85" fill="#262626" stroke="#262626" stroke-width="0.08" text-anchor="end" transform="rotate(-45 484.54 362.65)">1200</text>
<text x="498.72" y="362.65" font-size="6.85" fill="#262626" stroke="#262626" stroke-width="0.08" text-anchor="end" transform="rotate(-45 498.72 362.65)">1600</text>
<g transform="translate(412.4 330) rotate(-90)">
<text x="-10.9" y="0" font-size="8.6" fill="#1a1a1a" stroke="#1a1a1a" stroke-width="0.05" font-weight="bold" textLength="9.8" lengthAdjust="spacingAndGlyphs">PFS</text>
<text x="2" y="-1.1" font-size="7.1" fill="#1a1a1a" stroke="#1a1a1a" stroke-width="0.05" font-weight="bold" textLength="8.9" lengthAdjust="spacingAndGlyphs">(%)</text>
</g>
<path d="M439.7 308.9 L451.4 308.9 L452 308.9 L452 310.2 L454.5 310.2 L455.1 310.2 L455.1 312 L456.3 312 L456.3 312.9 L457.5 312.9 L457.5 314.8 L487.1 314.8" fill="none" stroke="#c0143c" stroke-width="0.9" stroke-linejoin="round"/>
<path d="M439.7 308.9 L443.4 308.9 L443.4 309.5 L444.6 309.5 L444.6 310.15 L445.8 310.15 L445.8 310.8 L447.05 310.8 L447.05 311.6 L448.3 311.6 L448.3 312.4 L449.53 312.4 L449.53 313.1 L450.77 313.1 L450.77 313.8 L452 313.8 L452 314.5 L453.25 314.5 L453.25 315.4 L454.5 315.4 L454.5 316.3 L456 316.3 L456 317.55 L457.5 317.55 L457.5 318.8 L459.05 318.8 L459.05 320 L460.6 320 L460.6 321.2 L462.15 321.2 L462.15 322.15 L463.7 322.15 L463.7 323.1 L464.9 323.1 L464.9 326.2 L468 326.2 L469.8 326.2 L469.8 328.4 L475.4 328.4 L475.6 332.3 L487.1 332.3 L487.4 338.5 L489.2 338.5 L489.5 338.5 L489.5 344.6 L495.7 344.6" fill="none" stroke="#2f4f8f" stroke-width="0.88" stroke-linejoin="round"/>
<text x="440" y="345.1" font-size="5.4" fill="#555" stroke="#555" stroke-width="0.12" textLength="22.5" lengthAdjust="spacingAndGlyphs">p = 0.016</text>
<text x="497.4" y="316.4" font-size="5.5" fill="#555" stroke="#555" stroke-width="0.12"><tspan font-style="italic">n</tspan> = 23</text>
<text x="497.4" y="346" font-size="5.5" fill="#555" stroke="#555" stroke-width="0.12"><tspan font-style="italic">n</tspan> = 66</text>
<rect x="0.55" y="0.55" width="518.9" height="392.9" fill="none" stroke="#000" stroke-width="1.1"/>
</svg></body></html>
